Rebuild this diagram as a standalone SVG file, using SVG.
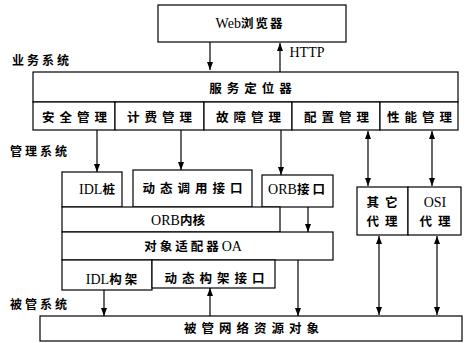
<svg xmlns="http://www.w3.org/2000/svg" width="468" height="343" viewBox="0 0 468 343">
<defs>
<marker id="ah" viewBox="0 0 8 6" refX="8" refY="3" markerWidth="8" markerHeight="6" markerUnits="userSpaceOnUse" orient="auto-start-reverse">
<path d="M0,0 L8,3 L0,6 Z" fill="#000"/>
</marker>
<style>
.b{fill:#fff;stroke:#000;stroke-width:1.2}
.t{font-family:"Liberation Serif","Noto Sans CJK SC",serif;font-size:12.5px;fill:#000;text-anchor:middle;font-weight:bold}
.e{font-weight:normal;font-size:14px;letter-spacing:0}
.l{font-family:"Liberation Serif","Noto Sans CJK SC",serif;font-size:12px;fill:#000;font-weight:bold;letter-spacing:3px}
.c{stroke:#000;stroke-width:1.2;fill:none}
.a{marker-end:url(#ah)}
.d{marker-start:url(#ah);marker-end:url(#ah)}
</style>
</defs>
<rect width="468" height="343" fill="#fff"/>
<g id="web"><rect class="b" x="158" y="5" width="188" height="37"/><text class="t" x="250" y="28" style="letter-spacing:2px"><tspan class="e">Web</tspan>浏览器</text></g>
<g id="labels">
<text class="l" x="12" y="65">业务系统</text>
<text class="l" x="10" y="156">管理系统</text>
<text class="l" x="10" y="309">被管系统</text>
<text class="t" x="307" y="57" style="font-weight:normal;font-size:14px">HTTP</text>
</g>
<g id="locator"><rect class="b" x="33" y="72" width="425" height="30"/><text class="t" x="253" y="93" style="letter-spacing:5px">服务定位器</text></g>
<g id="mgmt">
<rect class="b" x="33" y="102" width="82" height="28"/><text class="t" x="77" y="122" style="letter-spacing:5px">安全管理</text>
<rect class="b" x="115" y="102" width="89" height="28"/><text class="t" x="162" y="122" style="letter-spacing:5px">计费管理</text>
<rect class="b" x="204" y="102" width="88" height="28"/><text class="t" x="251" y="122" style="letter-spacing:5px">故障管理</text>
<rect class="b" x="292" y="102" width="88" height="28"/><text class="t" x="339" y="122" style="letter-spacing:5px">配置管理</text>
<rect class="b" x="380" y="102" width="78" height="28"/><text class="t" x="422" y="122" style="letter-spacing:5px">性能管理</text>
</g>
<g id="idlstub"><rect class="b" x="62" y="172" width="60" height="35"/><text class="t" x="97" y="194"><tspan class="e">IDL</tspan>桩</text></g>
<g id="dii"><rect class="b" x="133" y="170" width="119" height="37"/><text class="t" x="195" y="193" style="letter-spacing:5px">动态调用接口</text></g>
<g id="orbif"><rect class="b" x="262" y="175" width="71" height="32"/><text class="t" x="298" y="194" style="letter-spacing:3px"><tspan class="e">ORB</tspan>接口</text></g>
<g id="orbcore"><rect class="b" x="62" y="207" width="218" height="25"/><text class="t" x="178" y="225"><tspan class="e">ORB</tspan>内核</text></g>
<g id="oa"><rect class="b" x="62" y="232" width="271" height="28"/><text class="t" x="193" y="251" style="letter-spacing:3px">对象适配器<tspan class="e">OA</tspan></text></g>
<g id="idlskel"><rect class="b" x="62" y="260" width="90" height="30"/><text class="t" x="113" y="284" style="letter-spacing:3px"><tspan class="e">IDL</tspan>构架</text></g>
<g id="dsi"><rect class="b" x="152" y="260" width="123" height="28"/><text class="t" x="217" y="283" style="letter-spacing:5px">动态构架接口</text></g>
<g id="other"><rect class="b" x="357" y="187" width="51" height="48"/><text class="t" x="385" y="207" style="letter-spacing:6px">其它</text><text class="t" x="385" y="226" style="letter-spacing:6px">代理</text></g>
<g id="osi"><rect class="b" x="408" y="187" width="53" height="48"/><text class="t" x="435" y="207" style="font-weight:normal;font-size:14px">OSI</text><text class="t" x="438" y="226" style="letter-spacing:6px">代理</text></g>
<g id="resource"><rect class="b" x="40" y="316" width="422" height="25"/><text class="t" x="254" y="333" style="letter-spacing:5px">被管网络资源对象</text></g>
<g id="connectors">
<line class="c a" x1="210" y1="42" x2="210" y2="70"/>
<line class="c a" x1="280" y1="72" x2="280" y2="43"/>
<line class="c a" x1="97" y1="130" x2="97" y2="172"/>
<line class="c a" x1="181" y1="130" x2="181" y2="170"/>
<line class="c a" x1="281" y1="130" x2="281" y2="175"/>
<line class="c d" x1="368" y1="131" x2="368" y2="186"/>
<line class="c d" x1="432" y1="131" x2="432" y2="186"/>
<line class="c a" x1="308" y1="207" x2="308" y2="232"/>
<line class="c a" x1="104" y1="290" x2="104" y2="316"/>
<line class="c a" x1="210" y1="316" x2="210" y2="288"/>
<line class="c a" x1="298" y1="260" x2="298" y2="316"/>
<line class="c d" x1="379" y1="236" x2="379" y2="315"/>
<line class="c d" x1="437" y1="236" x2="437" y2="315"/>
</g>
</svg>
